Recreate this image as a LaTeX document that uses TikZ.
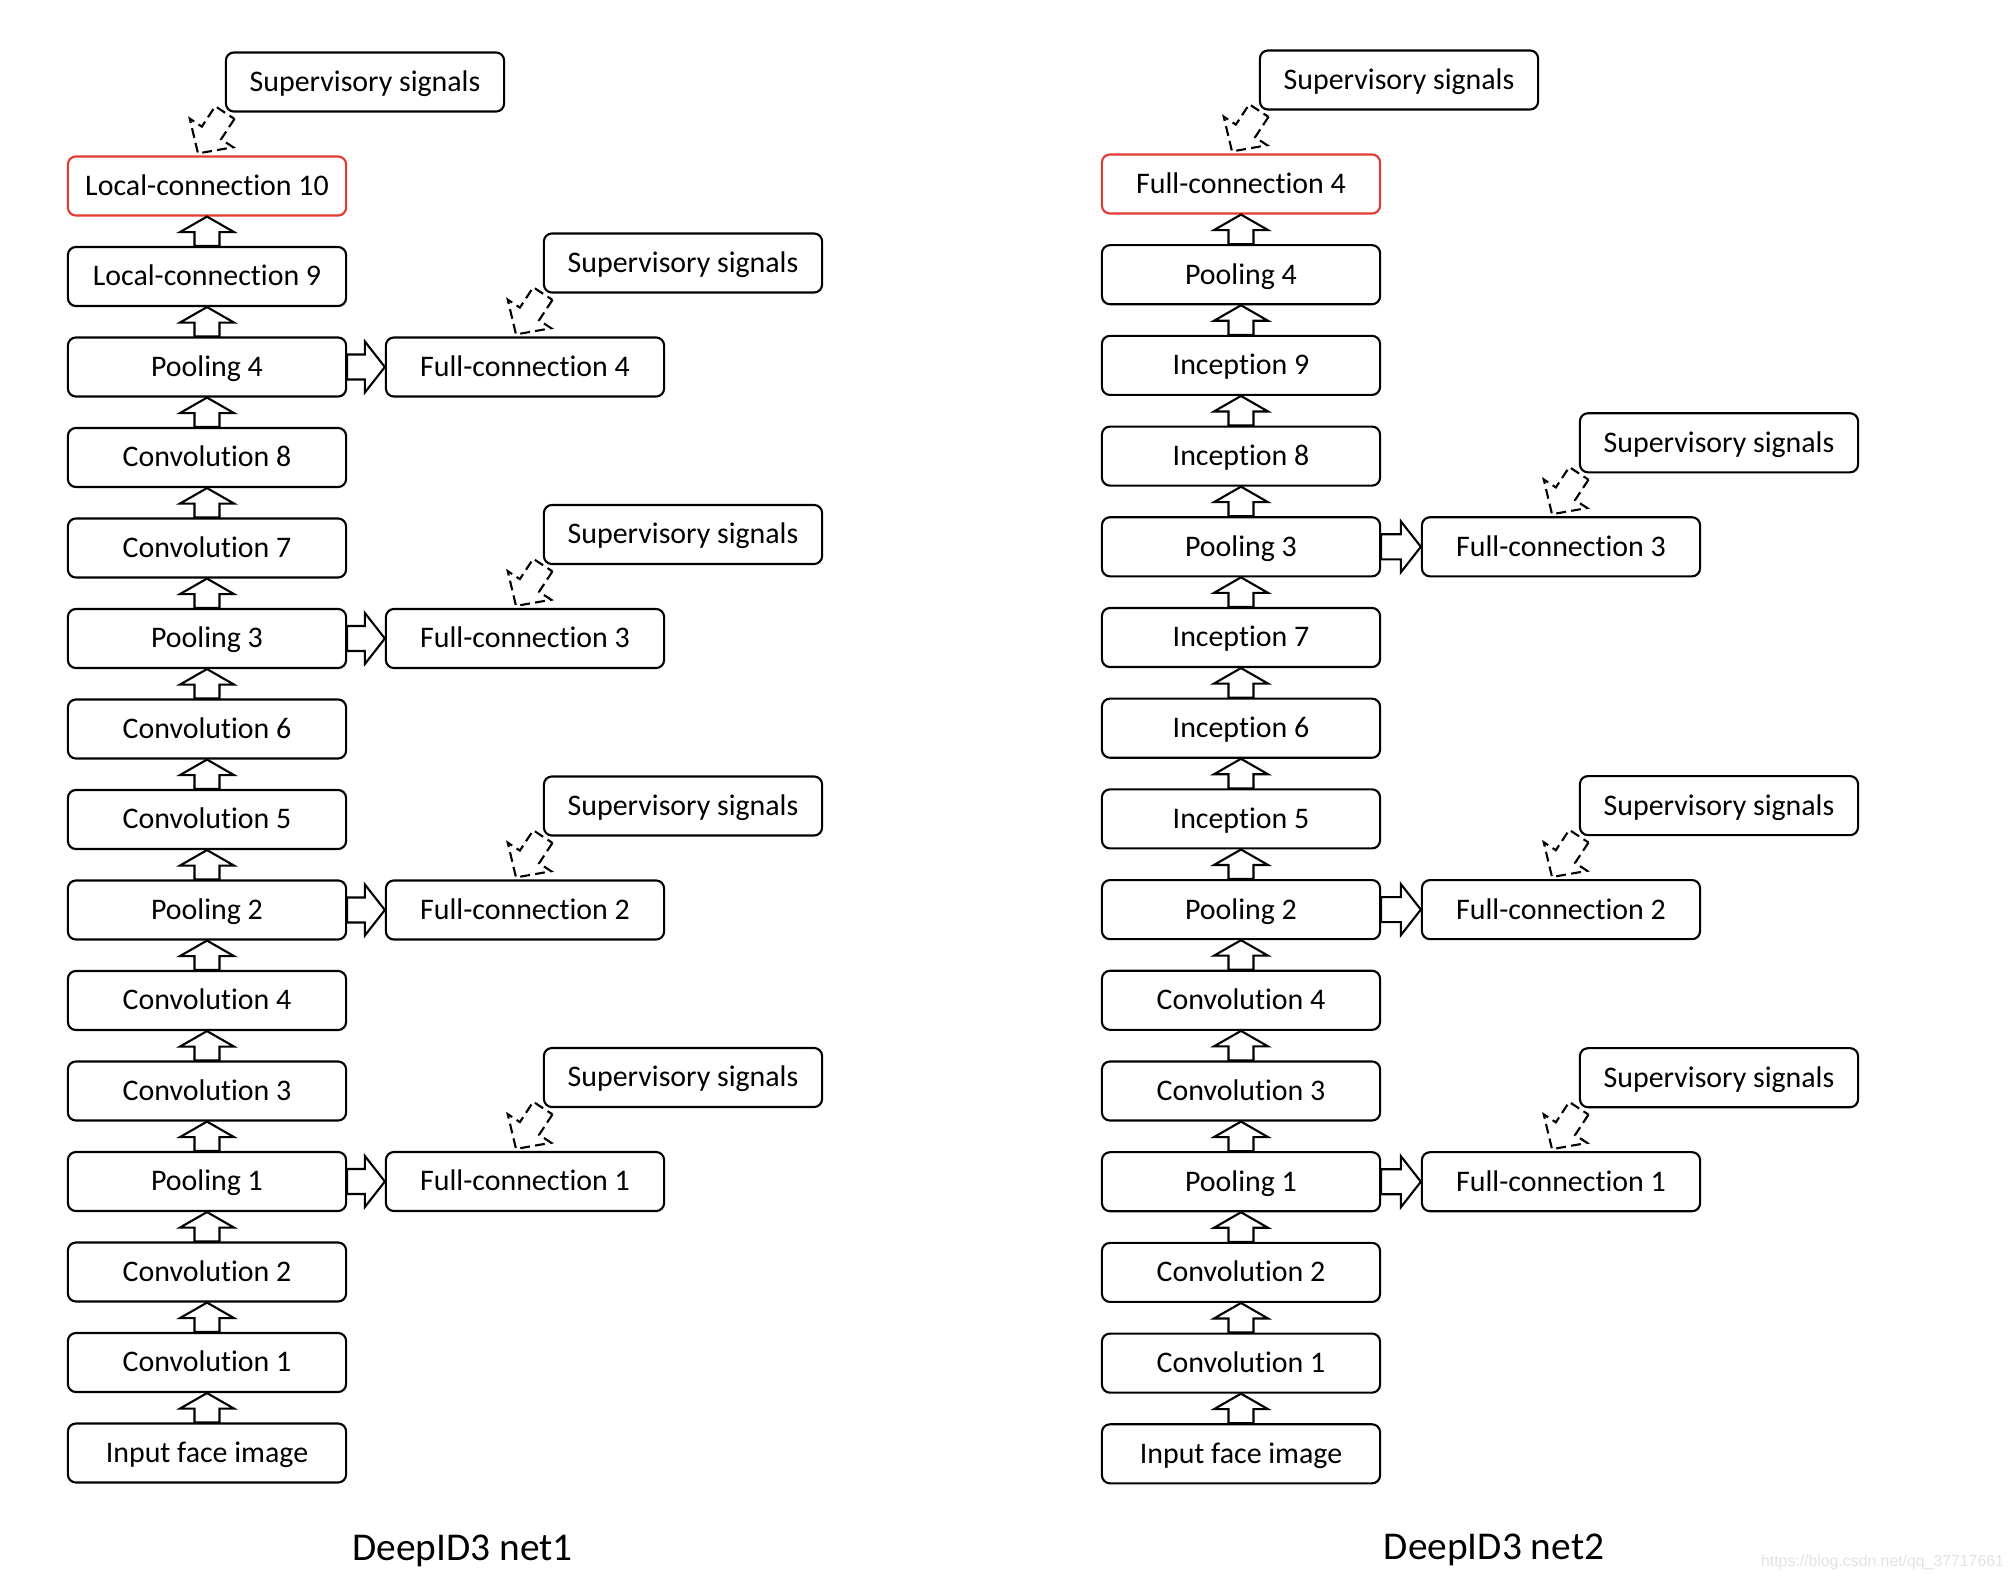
\documentclass[tikz,border=0pt]{standalone}
\usepackage{fontspec}
\setmainfont[Ligatures={NoCommon}]{Carlito}
\newfontfamily\wmfont{Liberation Sans}
\usetikzlibrary{calc}
\definecolor{boxred}{RGB}{228,58,48}
\definecolor{wmgray}{RGB}{226,226,226}
% hollow block arrow from #2 to #3: #4 shaft half width, #5 head half width, #6 head length
\newcommand\blockarr[6]{%
  \coordinate (bam) at ($(#3)!#6!(#2)$);
  \draw[#1] ($(#2)!#4!90:(#3)$) -- ($(bam)!#4!-90:(#2)$) -- ($(bam)!#5!-90:(#2)$) -- (#3)
    -- ($(bam)!#5!90:(#2)$) -- ($(bam)!#4!90:(#2)$) -- ($(#2)!#4!-90:(#3)$) -- cycle;
}
\begin{document}
\begin{tikzpicture}[x=0.01cm,y=-0.01cm,line width=0.6pt,
  box/.style={draw,rounded corners=0.08cm,minimum width=2.78cm,minimum height=0.59cm,
    inner sep=0pt,font=\fontsize{8.5pt}{10pt}\selectfont,text height=7.05pt,text depth=1.7pt},
  redbox/.style={box,draw=boxred},
  blockline/.style={draw,line join=miter},
  dashline/.style={draw,line join=miter,dash pattern=on 2.8pt off 1.5pt},
  title/.style={font=\fontsize{11.2pt}{13pt}\selectfont,anchor=base}]
\useasboundingbox (0,0) rectangle (2014,1582);

% ---------------- left network ----------------
\node[redbox] (L0) at (207,186) {Local-connection 10};
\node[box] (L1) at (207,276.5) {Local-connection 9};
\node[box] (L2) at (207,367) {Pooling 4};
\node[box] (L3) at (207,457.5) {Convolution 8};
\node[box] (L4) at (207,548) {Convolution 7};
\node[box] (L5) at (207,638.5) {Pooling 3};
\node[box] (L6) at (207,729) {Convolution 6};
\node[box] (L7) at (207,819.5) {Convolution 5};
\node[box] (L8) at (207,910) {Pooling 2};
\node[box] (L9) at (207,1000.5) {Convolution 4};
\node[box] (L10) at (207,1091) {Convolution 3};
\node[box] (L11) at (207,1181.5) {Pooling 1};
\node[box] (L12) at (207,1272) {Convolution 2};
\node[box] (L13) at (207,1362.5) {Convolution 1};
\node[box] (L14) at (207,1453) {Input face image};

\node[box] (LF2) at (525,367) {Full-connection 4};
\node[box] (LF5) at (525,638.5) {Full-connection 3};
\node[box] (LF8) at (525,910) {Full-connection 2};
\node[box] (LF11) at (525,1181.5) {Full-connection 1};

\node[box] (LS0) at (365,82) {Supervisory signals};
\node[box] (LS2) at (683,263) {Supervisory signals};
\node[box] (LS5) at (683,534.5) {Supervisory signals};
\node[box] (LS8) at (683,806) {Supervisory signals};
\node[box] (LS11) at (683,1077.5) {Supervisory signals};

% ---------------- right network ----------------
\node[redbox] (R0) at (1241,184) {Full-connection 4};
\node[box] (R1) at (1241,274.7) {Pooling 4};
\node[box] (R2) at (1241,365.4) {Inception 9};
\node[box] (R3) at (1241,456.1) {Inception 8};
\node[box] (R4) at (1241,546.8) {Pooling 3};
\node[box] (R5) at (1241,637.5) {Inception 7};
\node[box] (R6) at (1241,728.2) {Inception 6};
\node[box] (R7) at (1241,818.9) {Inception 5};
\node[box] (R8) at (1241,909.6) {Pooling 2};
\node[box] (R9) at (1241,1000.3) {Convolution 4};
\node[box] (R10) at (1241,1091) {Convolution 3};
\node[box] (R11) at (1241,1181.7) {Pooling 1};
\node[box] (R12) at (1241,1272.4) {Convolution 2};
\node[box] (R13) at (1241,1363.1) {Convolution 1};
\node[box] (R14) at (1241,1453.8) {Input face image};

\node[box] (RF4) at (1561,546.8) {Full-connection 3};
\node[box] (RF8) at (1561,909.6) {Full-connection 2};
\node[box] (RF11) at (1561,1181.7) {Full-connection 1};

\node[box] (RS0) at (1399,80) {Supervisory signals};
\node[box] (RS4) at (1719,442.8) {Supervisory signals};
\node[box] (RS8) at (1719,805.6) {Supervisory signals};
\node[box] (RS11) at (1719,1077.7) {Supervisory signals};

% ---------------- upward block arrows ----------------
\foreach \k in {1,...,14}{%
  \pgfmathtruncatemacro\j{\k-1}%
  \blockarr{blockline}{L\k.north}{L\j.south}{0.125cm}{0.27cm}{0.155cm}
  \blockarr{blockline}{R\k.north}{R\j.south}{0.125cm}{0.27cm}{0.155cm}
}

% ---------------- sideways block arrows ----------------
\foreach \k in {2,5,8,11}{%
  \blockarr{blockline}{L\k.east}{LF\k.west}{0.125cm}{0.255cm}{0.2cm}
}
\foreach \k in {4,8,11}{%
  \blockarr{blockline}{R\k.east}{RF\k.west}{0.125cm}{0.255cm}{0.2cm}
}

% ---------------- dashed supervisory arrows ----------------
\coordinate (LT0) at ($(L0.north)+(-9,-2)$);
\blockarr{dashline}{LS0.south west}{LT0}{0.115cm}{0.26cm}{0.245cm}
\foreach \k in {2,5,8,11}{%
  \coordinate (LT\k) at ($(LF\k.north)+(-9,-2)$);
  \blockarr{dashline}{LS\k.south west}{LT\k}{0.115cm}{0.26cm}{0.245cm}
}
\coordinate (RT0) at ($(R0.north)+(-9,-2)$);
\blockarr{dashline}{RS0.south west}{RT0}{0.115cm}{0.26cm}{0.245cm}
\foreach \k in {4,8,11}{%
  \coordinate (RT\k) at ($(RF\k.north)+(-9,-2)$);
  \blockarr{dashline}{RS\k.south west}{RT\k}{0.115cm}{0.26cm}{0.245cm}
}

% ---------------- titles ----------------
\node[title] (T1) at (462.7,1560) {DeepID3 net1};
\node[title] (T2) at (1494,1559) {DeepID3 net2};
\node[anchor=base east,inner sep=0pt,text=wmgray,font=\wmfont\fontsize{4.5pt}{5pt}\selectfont] (WM) at (2005,1566) {https://blog.csdn.net/qq\_37717661};
\end{tikzpicture}
\end{document}
